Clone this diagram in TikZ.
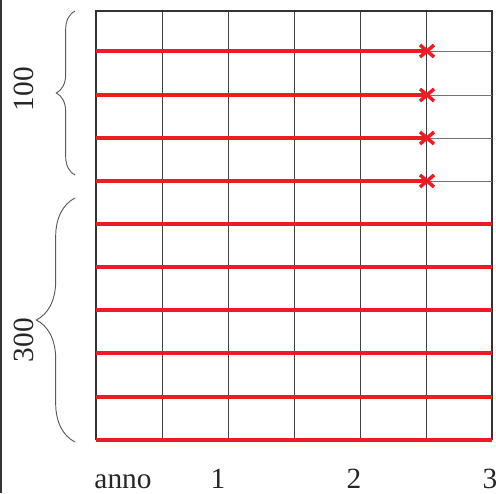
\documentclass[tikz,border=0pt]{standalone}
\usepackage{fontspec}
\setmainfont{Liberation Serif}
\usepackage{tikz}
\usetikzlibrary{decorations.pathreplacing,positioning,calc}
\definecolor{ourred}{RGB}{237,28,36}

\begin{document}
\begin{tikzpicture}[
    x=0.75pt, y=-0.75pt,
    frame/.style={draw=black!80, line width=1.9pt},
    gridline/.style={draw=black!75, line width=0.75pt},
    rest/.style={draw=black!55, line width=0.75pt},
    redline/.style={draw=ourred, line width=2.4pt},
    cross/.style={draw=ourred, line width=2.6pt},
    brc/.style={draw=black!65, line width=0.7pt,
        decorate, decoration={brace, amplitude=#1}},
    lbl/.style={font=\rmfamily\fontsize{22}{26}\selectfont, text=black!85, inner sep=0pt},
]
\useasboundingbox (0,0) rectangle (496,493);

% Outer left edge
\draw[frame, line width=1.5pt] (1,0) -- (1,493);

% Columns
\foreach \x in {162,228,294,360,426}
    \draw[gridline] (\x,11) -- (\x,440);

% Box
\coordinate (tl) at (96,11);
\coordinate (tr) at (492,11);
\coordinate (bl) at (96,440);
\coordinate (br) at (492,440);
\draw[frame] (bl) -- (tl) -- (tr) -- (br);

% Rows that stop (100)
\foreach \y in {51,95,138,181} {
    \draw[rest] (427,\y) -- (492,\y);
    \draw[redline] (96,\y) -- (427,\y);
    \draw[cross] (420,\y-6) -- (434,\y+6) (420,\y+6) -- (434,\y-6);
}

% Rows that go on (300)
\foreach \y in {224,267,310,353,397,440}
    \draw[redline] (96,\y) -- (492,\y);

% Braces
\coordinate (b1s) at (75,175);
\coordinate (b1e) at (75,11);
\coordinate (b2s) at (75,442);
\coordinate (b2e) at (75,198);
\draw[brc=14pt] (b1s) -- (b1e);
\draw[brc=29pt] (b2s) -- (b2e);

% Labels
\node[lbl, rotate=90] (n100) at (24,89) {100};
\node[lbl, rotate=90] (n300) at (24,340) {300};
\node[lbl, anchor=base] (anno) at (123,488) {anno};
\node[lbl, anchor=base] (y1) at (218,488) {1};
\node[lbl, anchor=base] (y2) at (354,488) {2};
\node[lbl, anchor=base] (y3) at (490,488) {3};

\end{tikzpicture}
\end{document}
